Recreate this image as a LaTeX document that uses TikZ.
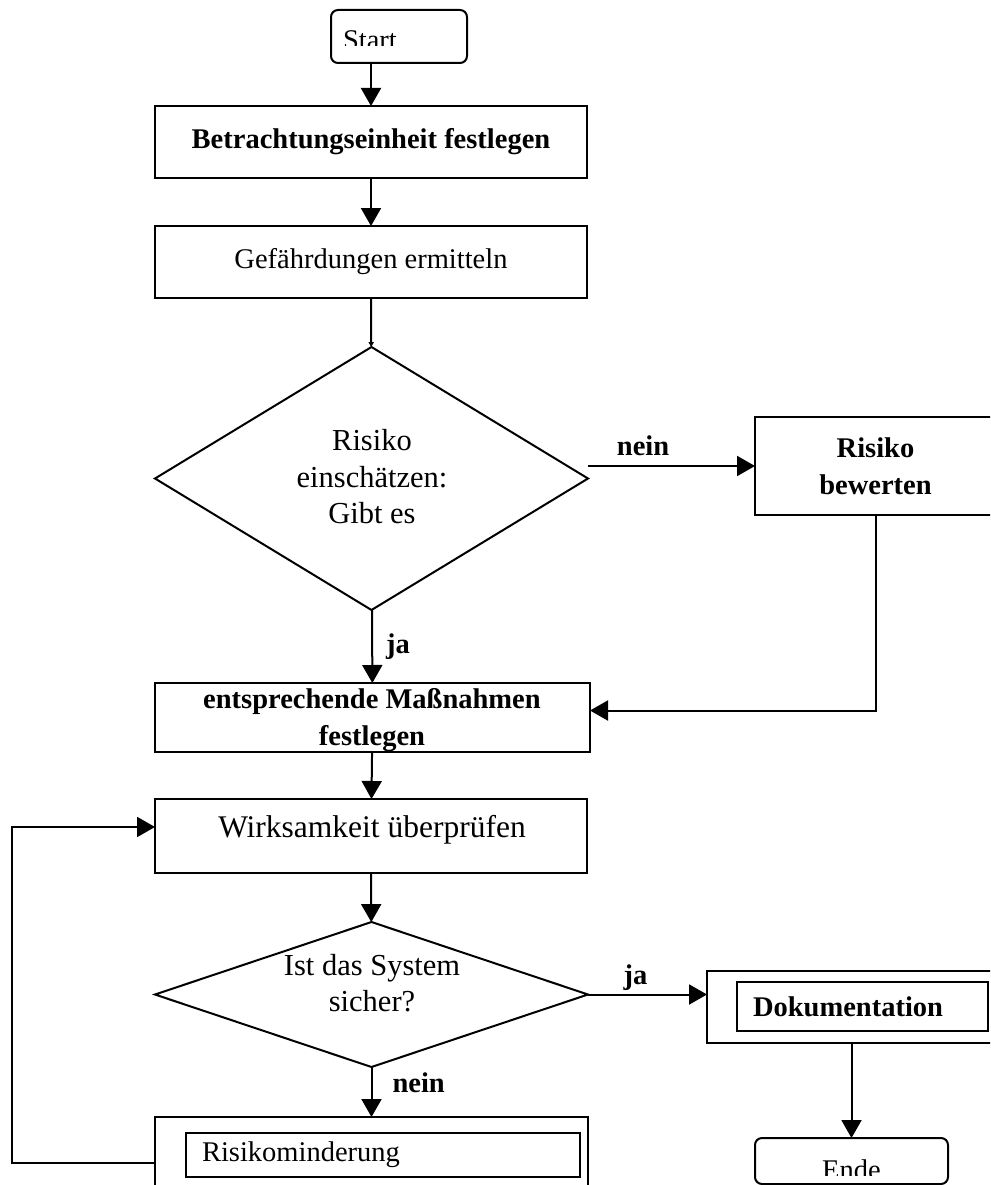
\documentclass[tikz,border=0pt]{standalone}
\usepackage{fontspec}
\setmainfont{Liberation Serif}
\usetikzlibrary{arrows.meta,shapes.geometric}
\newcommand\bxfont{\fontsize{28.5}{36.5}\selectfont}
\newcommand\dmfont{\fontsize{30.5}{36.5}\selectfont}
\newcommand\lgfont{\fontsize{31.5}{36.5}\selectfont}
\begin{document}
\begin{tikzpicture}[x=1pt,y=-1pt,line width=2pt,
  every node/.style={inner sep=0pt,outer sep=0pt},
  box/.style={draw,rectangle,align=center,font=\bxfont},
  bbox/.style={box,font=\bxfont\bfseries},
  term/.style={draw,rectangle,rounded corners=7pt},
  decide/.style={draw,diamond},
  lbl/.style={font=\bxfont\bfseries},
  flow/.style={-{Triangle[length=18pt,width=20pt]}},
  tinyflow/.style={-{Triangle[length=5pt,width=5pt]}}]
\useasboundingbox (0,0) rectangle (990,1185);
\clip (0,0) rectangle (990,1185);

% terminals and process boxes
\node[term,minimum width=136pt,minimum height=53pt] (start) at (399,36.5) {};
\begin{scope}
  \clip (331,10) rectangle (467,46);
  \node[anchor=base west,font=\bxfont] (starttxt) at (343,50) {Start};
\end{scope}

\node[bbox,minimum width=432pt,minimum height=72pt] (betr) at (371,142) {Betrachtungseinheit festlegen};
\node[box,minimum width=432pt,minimum height=72pt] (gef) at (371,262) {Gefährdungen ermitteln};

\node[decide,minimum width=433pt,minimum height=263pt] (d1) at (371.5,478.5) {};
\node[font=\dmfont,align=center] (d1txt) at (372,477) {Risiko\\einschätzen:\\Gibt es};

\node[bbox,minimum width=241pt,minimum height=98pt] (rb) at (875.5,466) {Risiko\\bewerten};

\node[box,minimum width=435pt,minimum height=69pt] (mass) at (372.5,717.5) {};
\node[font=\bxfont\bfseries,align=center] (masstxt) at (372,720) {entsprechende Maßnahmen\\festlegen};

\node[box,minimum width=432pt,minimum height=74pt] (wirk) at (371,836) {};
\node[font=\lgfont] (wirktxt) at (372,830) {Wirksamkeit überprüfen};

\node[decide,minimum width=433pt,minimum height=145pt] (d2) at (371.5,994.5) {};
\node[font=\dmfont,align=center] (d2txt) at (372,983) {Ist das System\\sicher?};

\node[draw,rectangle,minimum width=293pt,minimum height=72pt] (doc) at (853.5,1007) {};
\node[draw,rectangle,anchor=north west,minimum width=251pt,minimum height=49pt,
      inner xsep=16pt,text width=219pt,align=left,font=\bxfont\bfseries] (docin) at (737,982) {Dokumentation};

\node[term,minimum width=193pt,minimum height=46pt] (ende) at (851.5,1161) {};
\begin{scope}
  \clip (755,1138) rectangle (948,1175);
  \node[anchor=base,font=\bxfont] (endetxt) at (851.5,1179) {Ende};
\end{scope}

\node[draw,rectangle,minimum width=433pt,minimum height=83pt] (rm) at (371.5,1158.5) {};
\node[draw,rectangle,anchor=north west,minimum width=394pt,minimum height=44pt,
      inner xsep=16pt,text width=362pt,align=left,font=\bxfont] (rmin) at (186,1133) {Risikominderung};

% connectors
\draw[flow] (start.south -| betr.north) -- (betr.north);
\draw[flow] (betr) -- (gef);
\draw[tinyflow] (gef) -- (d1);
\draw[flow] (rb.west -| d1.east) -- node[lbl,above=10pt,pos=0.33] {nein} (rb.west);
\draw[flow] (rb.south) |- ([yshift=7pt]mass.east);
\draw[flow] (d1) -- node[lbl,right=14pt,pos=0.5] {ja} (mass);
\draw[flow] (mass) -- (wirk);
\draw[flow] (wirk) -- (d2);
\draw[flow] (d2.east) -- node[lbl,above=4pt,pos=0.4] {ja} (d2.east -| doc.west);
\draw[flow] (ende.north |- doc.south) -- (ende.north);
\draw[flow] (d2) -- node[lbl,right=21pt,pos=0.32] {nein} (rm);
\draw[flow] ([yshift=-4pt]rm.west) -- ++(-143,0) |- ([yshift=9pt]wirk.west);
\end{tikzpicture}
\end{document}
